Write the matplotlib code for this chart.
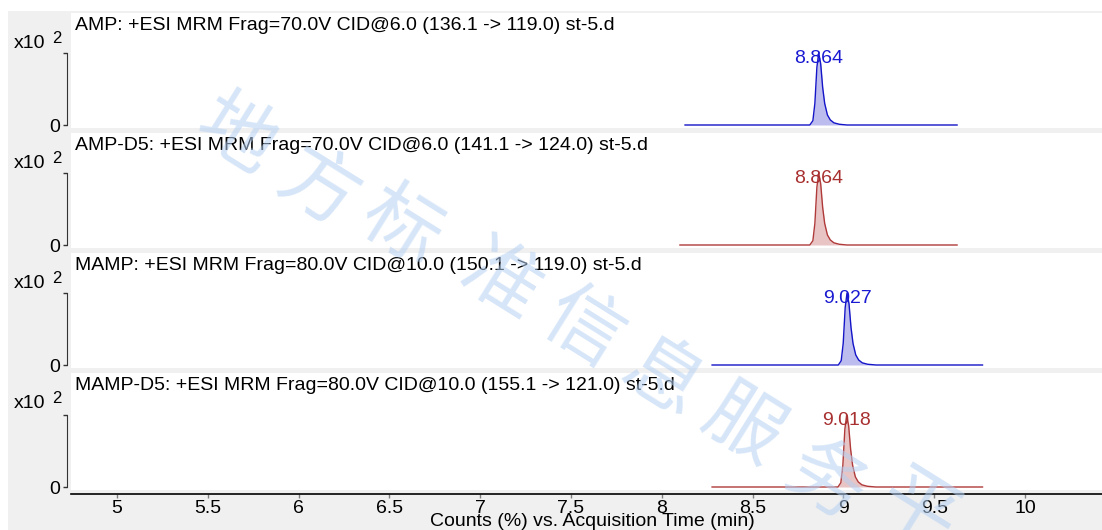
import matplotlib.pyplot as plt
from matplotlib.patches import Rectangle
from matplotlib.ticker import FuncFormatter

plt.rcParams['font.family'] = ['Liberation Sans', 'DejaVu Sans']

titles = [
    'AMP: +ESI MRM Frag=70.0V CID@6.0 (136.1 -> 119.0) st-5.d',
    'AMP-D5: +ESI MRM Frag=70.0V CID@6.0 (141.1 -> 124.0) st-5.d',
    'MAMP: +ESI MRM Frag=80.0V CID@10.0 (150.1 -> 119.0) st-5.d',
    'MAMP-D5: +ESI MRM Frag=80.0V CID@10.0 (155.1 -> 121.0) st-5.d',
]
peak_labels = ['8.864', '8.864', '9.027', '9.018']
peak_rt = [8.864, 8.864, 9.020, 9.018]

# retention time (min) / counts (%) for each trace
amp_t = [8.128, 8.815, 8.832, 8.843, 8.854, 8.864, 8.875, 8.886, 8.897, 8.912, 8.928, 8.948, 8.978, 9.02, 9.626]
amp_y = [0, 0, 6, 30, 80, 100, 85, 52, 30, 14, 7, 3, 1, 0, 0]
ampd5_t = [8.10, 8.815, 8.832, 8.843, 8.854, 8.864, 8.875, 8.886, 8.897, 8.912, 8.928, 8.948, 8.978, 9.02, 9.626]
ampd5_y = [0, 0, 6, 30, 80, 100, 85, 52, 30, 14, 7, 3, 1, 0, 0]
mamp_t = [8.277, 8.972, 8.988, 8.999, 9.01, 9.02, 9.031, 9.042, 9.053, 9.068, 9.084, 9.104, 9.134, 9.18, 9.766]
mamp_y = [0, 0, 6, 30, 80, 100, 85, 52, 30, 14, 7, 3, 1, 0, 0]
mampd5_t = [8.277, 8.970, 8.986, 8.997, 9.008, 9.018, 9.029, 9.040, 9.051, 9.066, 9.082, 9.102, 9.132, 9.178, 9.766]
mampd5_y = [0, 0, 6, 30, 80, 100, 85, 52, 30, 14, 7, 3, 1, 0, 0]

traces = [(amp_t, amp_y), (ampd5_t, ampd5_y), (mamp_t, mamp_y), (mampd5_t, mampd5_y)]
blue = ('#1414c8', '#bcbcee', '#1a1ad2')
red = ('#b03a3a', '#e8c4c4', '#a83030')
styles = [blue, red, blue, red]

watermark = '地方标准信息服务平'
wm_pos = [(235, 137), (318, 190), (400, 228), (500, 283), (582, 330),
          (662, 380), (742, 427), (826, 482), (918, 512)]

W, H = 1102, 530
fig = plt.figure(figsize=(W / 100, H / 100), dpi=100)
fig.patch.set_facecolor('white')
fig.add_artist(Rectangle((8 / W, 0), 1, (H - 11) / H, transform=fig.transFigure,
                         facecolor='#f0f0f0', edgecolor='none', zorder=-10))

tops = [13, 133, 253, 373]
heights = [115, 115, 115, 117]
px = 0.72  # pixels per % count

axes = []
for i in range(4):
    top, h = tops[i], heights[i]
    ax = fig.add_axes([71 / W, (H - top - h) / H, (W - 71) / W, h / H])
    ax.set_facecolor('white')
    ax.set_xlim(4.747, 10.424)
    ax.set_ylim(-3 / px, (h - 3) / px)
    t, y = traces[i]
    lc, fc, tc = styles[i]
    ax.fill_between(t, y, 0, color=fc, lw=0)
    ax.plot(t, y, color=lc, lw=1)
    ax.text(peak_rt[i], 86, peak_labels[i], color=tc, fontsize=14,
            ha='center', va='baseline')
    ax.annotate(titles[i], xy=(0, 1), xycoords='axes fraction', xytext=(4, -4),
                textcoords='offset pixels', fontsize=14, ha='left', va='top')
    ax.annotate('x10', xy=(0, 1), xycoords='axes fraction', xytext=(-57, -35),
                textcoords='offset pixels', fontsize=14, ha='left', va='baseline',
                annotation_clip=False)
    ax.annotate('2', xy=(0, 1), xycoords='axes fraction', xytext=(-19, -30),
                textcoords='offset pixels', fontsize=12, ha='left', va='baseline',
                annotation_clip=False)

    for s in ['top', 'right', 'bottom']:
        ax.spines[s].set_visible(False)
    ax.spines['left'].set_position(('outward', 3))
    ax.spines['left'].set_bounds(0, 100)
    ax.spines['left'].set_color('#333333')
    ax.set_yticks([0, 100])
    ax.set_yticklabels(['0', ''])
    ax.tick_params(axis='y', length=3, width=1, color='#333333', labelsize=14, pad=2)
    ax.tick_params(axis='x', bottom=False, labelbottom=False)
    axes.append(ax)

ax = axes[-1]
ax.spines['bottom'].set_visible(True)
ax.spines['bottom'].set_position(('outward', 3))
ax.spines['bottom'].set_linewidth(1.2)
ax.spines['bottom'].set_color('black')
ax.set_xticks([5, 5.5, 6, 6.5, 7, 7.5, 8, 8.5, 9, 9.5, 10])
ax.xaxis.set_major_formatter(FuncFormatter(lambda v, p: '%g' % v))
ax.tick_params(axis='x', bottom=True, labelbottom=True, direction='out', length=3,
               width=1, color='#808080', labelsize=14, pad=1)
ax.set_xlabel('Counts (%) vs. Acquisition Time (min)', fontsize=14)
ax.xaxis.set_label_coords(0.506, -0.20)

for ch, (x, y) in zip(watermark, wm_pos):
    fig.text(x / W, 1 - y / H, ch, family=['Noto Sans CJK SC', 'DejaVu Sans'],
             fontsize=56, color='#b4d0f2', alpha=0.55, rotation=-32,
             ha='center', va='center', zorder=20)

fig.savefig('out.png', dpi=100)
